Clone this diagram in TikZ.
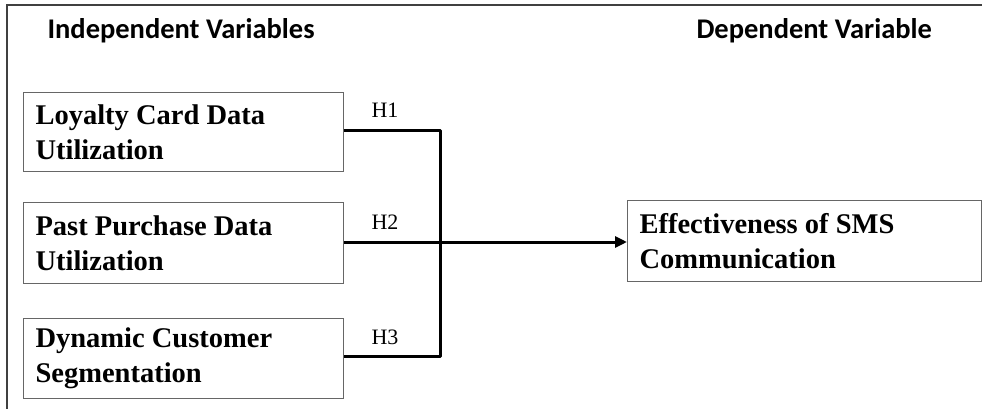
\documentclass[tikz,border=0pt]{standalone}
\usepackage{fontspec}
\setmainfont{Liberation Serif}
\newfontfamily\headfont{Carlito}
\usetikzlibrary{arrows.meta}
\begin{document}
\begin{tikzpicture}[x=1pt,y=-1pt,
  varbox/.style={draw=black!60,line width=1.3pt,rectangle,inner sep=0pt,anchor=north west},
  boxtext/.style={font=\fontsize{28.5}{35}\selectfont\bfseries,align=left,anchor=west},
  heading/.style={font=\headfont\fontsize{28.5}{32}\selectfont\bfseries,anchor=west},
  hyp/.style={font=\fontsize{22}{26}\selectfont,anchor=center},
  link/.style={line width=3pt,draw=black}]
\useasboundingbox (0,0) rectangle (982,409);
% frame edges
\draw[line width=1.8pt,black!75] (7,409) -- (7,5) -- (982,5);
% headings
\node[heading] (hi) at (44,31) {Independent Variables};
\node[heading] (hd) at (693,31) {Dependent Variable};
% independent variable boxes
\node[varbox,minimum width=320pt,minimum height=79pt] (b1) at (23,92) {};
\node[varbox,minimum width=320pt,minimum height=81pt] (b2) at (23,202) {};
\node[varbox,minimum width=320pt,minimum height=80pt] (b3) at (23,318) {};
\node[boxtext] (t1) at (32,132) {Loyalty Card Data\\Utilization};
\node[boxtext] (t2) at (32,243) {Past Purchase Data\\Utilization};
\node[boxtext] (t3) at (32,358) {Dynamic Customer\\Segmentation};
% dependent variable box
\node[varbox,minimum width=354pt,minimum height=81pt] (dv) at (627,200) {};
\node[boxtext] (td) at (636,241) {Effectiveness of SMS\\Communication};
% connectors
\coordinate (j1) at (440,131);
\coordinate (j3) at (440,356);
\draw[link,line join=round] (b1.east |- j1) -- (j1) -- (j3) -- (b3.east |- j3);
\draw[link,-{Triangle[length=12pt,width=11pt]}] (b2.east |- 0,242) -- (dv.west |- 0,242);
% hypothesis labels
\node[hyp] (h1) at (385,110) {H1};
\node[hyp] (h2) at (385,222) {H2};
\node[hyp] (h3) at (385,337) {H3};
\end{tikzpicture}
\end{document}
